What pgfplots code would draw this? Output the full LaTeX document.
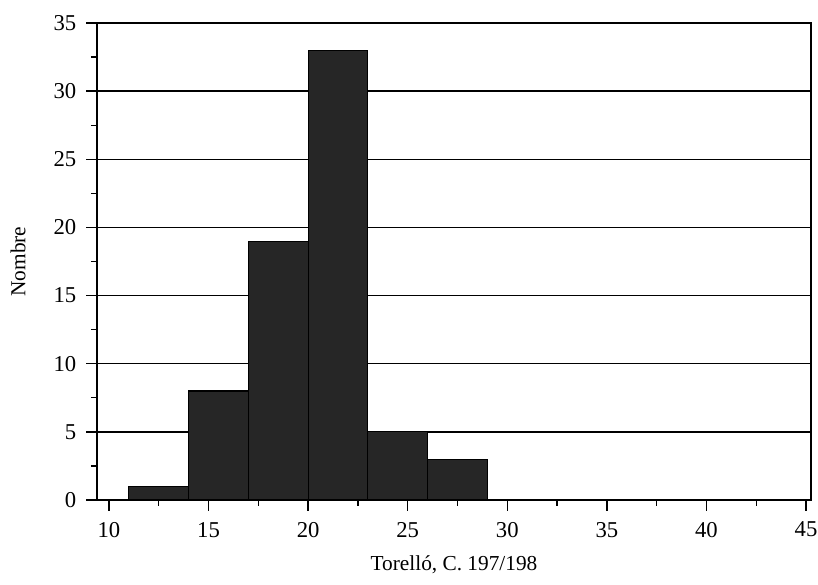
\documentclass[border=0pt]{standalone}
\usepackage{fontspec}
\setmainfont{Liberation Serif}
\usepackage{pgfplots}
\pgfplotsset{compat=1.18}
\definecolor{barfill}{HTML}{262626}
\begin{document}
\begin{tikzpicture}[x=1pt,y=1pt]
\path[use as bounding box] (-72.75,-63.75) rectangle (540.75,375);
\begin{axis}[
  at={(0,0)}, anchor=south west,
  scale only axis,
  width=535.5pt, height=357.75pt,
  xmin=9.4, xmax=45.25,
  ymin=0, ymax=35,
  xtick={10,15,...,45},
  ytick={0,5,...,35},
  minor x tick num=1,
  minor y tick num=1,
  tick align=outside,
  major tick length=8pt,
  minor tick length=4.5pt,
  xtick pos=bottom, ytick pos=left,
  ymajorgrids,
  major grid style={black, line width=1.1pt},
  axis line style={black, line width=1pt},
  every tick/.style={black, line width=1pt},
  tick label style={font=\fontsize{17}{19}\selectfont},
  yticklabel style={xshift=-4pt},
  xticklabel style={yshift=-5pt},
  /pgf/number format/assume math mode=true,
  label style={font=\fontsize{16}{18}\selectfont},
  xlabel={Torelló, C. 197/198},
  ylabel={Nombre},
  xlabel style={at={(axis description cs:0.5,-0.1363)}, anchor=center},
  ylabel style={at={(axis description cs:-0.1106,0.5)}, anchor=center},
]
\addplot[ybar interval, fill=barfill, draw=black, line width=0.8pt]
  coordinates {(11,1) (14,8) (17,19) (20,33) (23,5) (26,3) (29,0)};
\end{axis}
\end{tikzpicture}
\end{document}
